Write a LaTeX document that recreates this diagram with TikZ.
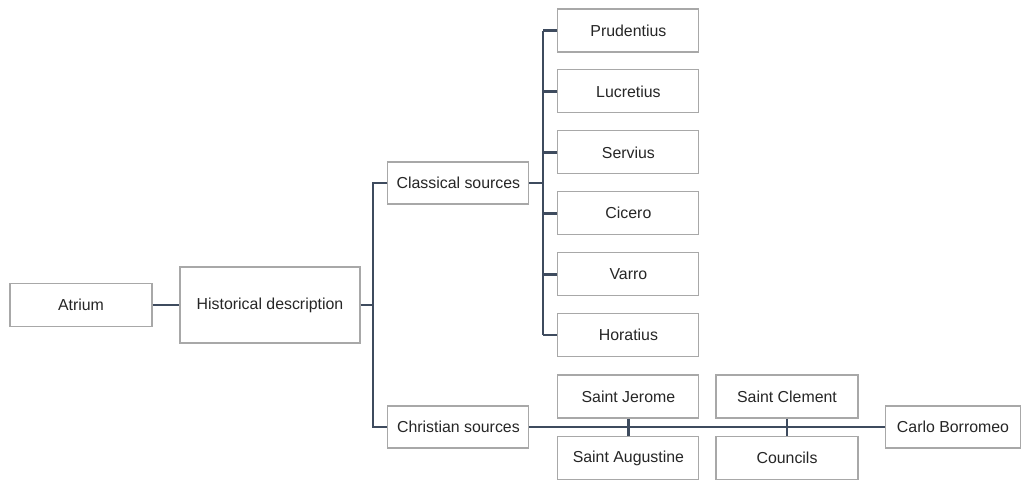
\documentclass[tikz,border=0pt]{standalone}
\usepackage{fontspec}
\setmainfont{Liberation Sans}
\usetikzlibrary{positioning,calc}
\definecolor{boxline}{HTML}{A8A8A8}
\definecolor{linkline}{HTML}{3E4B5E}
\definecolor{boxtext}{HTML}{262626}
\tikzset{
  % boxes of the source tree
  srcbox/.style={draw=boxline, line width=0.8pt, rectangle, fill=white,
  text=boxtext, font=\fontsize{11.3}{13}\selectfont,
  minimum height=1.075cm, minimum width=3.525cm, inner sep=0pt},
  link/.style={draw=linkline, line width=1.9pt}}
\begin{document}
\begin{tikzpicture}

\useasboundingbox (0,0) rectangle (25.6,-12);

\draw (2.025,-7.625) node (atrium) [srcbox, minimum width=3.55cm] {Atrium};
\draw (6.75,-7.625) node (hist) [srcbox, minimum width=4.5cm, minimum height=1.9cm] {Historical description};

\draw (11.46,-4.575) node (classical) [srcbox, minimum height=1.05cm] {Classical sources};
\draw (11.46,-10.675) node (christian) [srcbox, minimum height=1.05cm] {Christian sources};

\draw (15.71,-0.7625) node (prud) [srcbox] {Prudentius};
\draw (prud.south) node (lucr) [below=0.42cm of prud, srcbox] {Lucretius};
\draw (lucr.south) node (serv) [below=0.42cm of lucr, srcbox] {Servius};
\draw (serv.south) node (cic) [below=0.42cm of serv, srcbox] {Cicero};
\draw (cic.south) node (varro) [below=0.42cm of cic, srcbox] {Varro};
\draw (varro.south) node (hor) [below=0.42cm of varro, srcbox] {Horatius};

\draw (15.71,-9.9125) node (jerome) [srcbox] {Saint Jerome};
\draw (15.71,-11.45) node (aug) [srcbox] {Saint Augustine};
\draw (19.675,-9.9125) node (clement) [srcbox, minimum width=3.55cm] {Saint Clement};
\draw (19.675,-11.45) node (councils) [srcbox, minimum width=3.55cm] {Councils};
\draw (23.825,-10.675) node (carlo) [srcbox, minimum width=3.375cm, minimum height=1.05cm] {Carlo Borromeo};

% buses
\coordinate (busa) at (9.325,0);
\coordinate (busb) at (13.575,0);

\draw [link] (atrium) -- (hist);
\draw [link] (hist.east) -- (busa |- hist.east);
\draw [link] (classical.west) -- (busa |- classical.west) -- (busa |- christian.west) -- (christian.west);

\draw [link] (classical.east) -- (busb |- classical.east);
\draw [link] (busb |- prud.west) -- (busb |- hor.west);
\foreach \n in {prud,lucr,serv,cic,varro,hor}
  \draw [link] (busb |- \n.west) -- (\n.west);

\draw [link] (christian) -- (carlo);
\draw [link] (jerome.south) -- (aug.north);
\draw [link] (clement.south) -- (councils.north);

\end{tikzpicture}
\end{document}
